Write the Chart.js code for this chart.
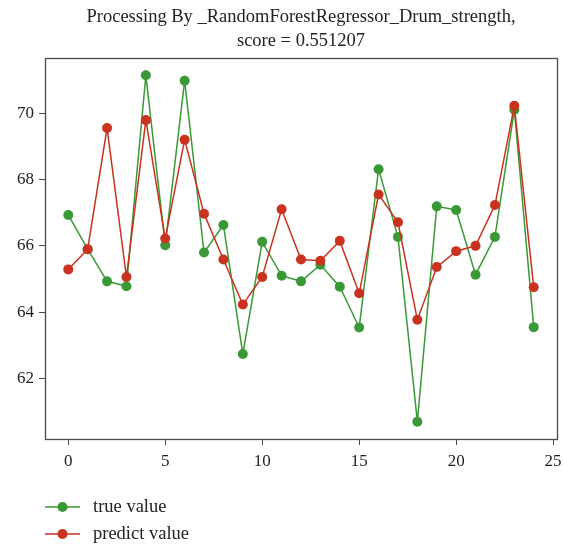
<!DOCTYPE html>
<html>
<head>
<meta charset="utf-8">
<script src="https://cdn.jsdelivr.net/npm/chart.js@4.4.0/dist/chart.umd.min.js"></script>
<style>
    html, body { margin: 0; padding: 0; background: #fff; }
    #wrap { width: 564px; height: 545px; }
</style>
</head>
<body>
<div id="wrap"><canvas id="chart" width="564" height="545"></canvas></div>
<script>
(function () {
    "use strict";

    // Data
    const indices = [0, 1, 2, 3, 4, 5, 6, 7, 8, 9, 10, 11, 12, 13, 14, 15, 16, 17, 18, 19, 20, 21, 22, 23, 24];
    const trueValues = [66.93, 65.9, 64.93, 64.78, 71.14, 66.02, 70.98, 65.8, 66.63, 62.74, 66.12, 65.1, 64.93, 65.43, 64.77, 63.54, 68.31, 66.27, 60.7, 67.19, 67.08, 65.13, 66.27, 70.1, 63.55];
    const predictValues = [65.29, 65.9, 69.55, 65.06, 69.79, 66.22, 69.2, 66.97, 65.59, 64.23, 65.06, 67.1, 65.59, 65.55, 66.15, 64.57, 67.55, 66.71, 63.77, 65.36, 65.84, 66.0, 67.23, 70.22, 64.75];
    const xTicks = [0, 5, 10, 15, 20, 25];
    const yTicks = [62, 64, 66, 68, 70];
    const titleLines = ["Processing By _RandomForestRegressor_Drum_strength,", "score = 0.551207"];
    const seriesNames = ["true value", "predict value"];

    const GREEN = "#3a9936";
    const RED = "#c8321f";
    const AXIS = "#4a4a4a";
    const FONT = "'Liberation Serif', 'DejaVu Serif', serif";

    const toPoints = (vals) => vals.map((v, i) => ({ x: indices[i], y: v }));

    // matplotlib style 5% margins
    const allY = trueValues.concat(predictValues);
    const yMin = Math.min(...allY), yMax = Math.max(...allY);
    const yPad = (yMax - yMin) * 0.05;
    const xPad = (indices[indices.length - 1] - indices[0]) * 0.05;

    const framePlugin = {
        id: "frame",
        afterDraw(chart) {
            const c = chart.ctx;
            const a = chart.chartArea;
            c.save();
            c.strokeStyle = AXIS;
            c.lineWidth = 1.3;
            c.strokeRect(Math.round(a.left) + 0.5, Math.round(a.top) + 0.5,
                Math.round(a.right - a.left), Math.round(a.bottom - a.top));

            // title centred over plot area
            c.fillStyle = "#222";
            c.font = "18.5px " + FONT;
            c.textAlign = "center";
            c.textBaseline = "alphabetic";
            const cx = (a.left + a.right) / 2;
            c.fillText(titleLines[0], cx, 22);
            c.fillText(titleLines[1], cx, 46);

            // legend
            const colors = [GREEN, RED];
            const rows = [507, 534];
            c.textAlign = "left";
            c.textBaseline = "middle";
            c.font = "18.5px " + FONT;
            rows.forEach((y, i) => {
                c.strokeStyle = colors[i];
                c.lineWidth = 1.5;
                c.beginPath();
                c.moveTo(45, y);
                c.lineTo(80, y);
                c.stroke();
                c.fillStyle = colors[i];
                c.beginPath();
                c.arc(62.5, y, 5, 0, Math.PI * 2);
                c.fill();
                c.fillStyle = "#222";
                c.fillText(seriesNames[i], 93, y);
            });
            c.restore();
        },
    };

    const ctx = document.getElementById("chart").getContext("2d");

    new Chart(ctx, {
        type: "line",
        data: {
            datasets: [
                {
                    label: seriesNames[0],
                    data: toPoints(trueValues),
                    borderColor: GREEN,
                    backgroundColor: GREEN,
                    borderWidth: 1.5,
                    pointRadius: 5,
                    pointBorderWidth: 0,
                    tension: 0,
                    order: 2,
                },
                {
                    label: seriesNames[1],
                    data: toPoints(predictValues),
                    borderColor: RED,
                    backgroundColor: RED,
                    borderWidth: 1.5,
                    pointRadius: 5,
                    pointBorderWidth: 0,
                    tension: 0,
                    order: 1,
                },
            ],
        },
        options: {
            responsive: false,
            animation: false,
            layout: {
                padding: { top: 58, right: 7, left: 0, bottom: 0 },
            },
            plugins: {
                legend: { display: false },
                tooltip: { enabled: false },
                title: { display: false },
            },
            scales: {
                x: {
                    type: "linear",
                    min: indices[0] - xPad,
                    max: indices[indices.length - 1] + xPad,
                    afterBuildTicks: (scale) => {
                        scale.ticks = xTicks.map((v) => ({ value: v }));
                    },
                    afterFit: (scale) => {
                        scale.height = 106;
                        scale.paddingLeft = 0;
                        scale.paddingRight = 0;
                    },
                    ticks: {
                        color: "#222",
                        font: { family: FONT, size: 17 },
                        padding: 6,
                        maxRotation: 0,
                    },
                    grid: {
                        drawOnChartArea: false,
                        drawTicks: true,
                        tickLength: 6,
                        tickColor: AXIS,
                    },
                    border: { display: true, color: AXIS, width: 1 },
                },
                y: {
                    min: yMin - yPad,
                    max: yMax + yPad,
                    afterBuildTicks: (scale) => {
                        scale.ticks = yTicks.map((v) => ({ value: v }));
                    },
                    afterFit: (scale) => {
                        scale.width = 45;
                    },
                    ticks: {
                        color: "#222",
                        font: { family: FONT, size: 17 },
                        padding: 5,
                    },
                    grid: {
                        drawOnChartArea: false,
                        drawTicks: true,
                        tickLength: 6,
                        tickColor: AXIS,
                    },
                    border: { display: true, color: AXIS, width: 1 },
                },
            },
        },
        plugins: [framePlugin],
    });
})();
</script>
</body>
</html>
